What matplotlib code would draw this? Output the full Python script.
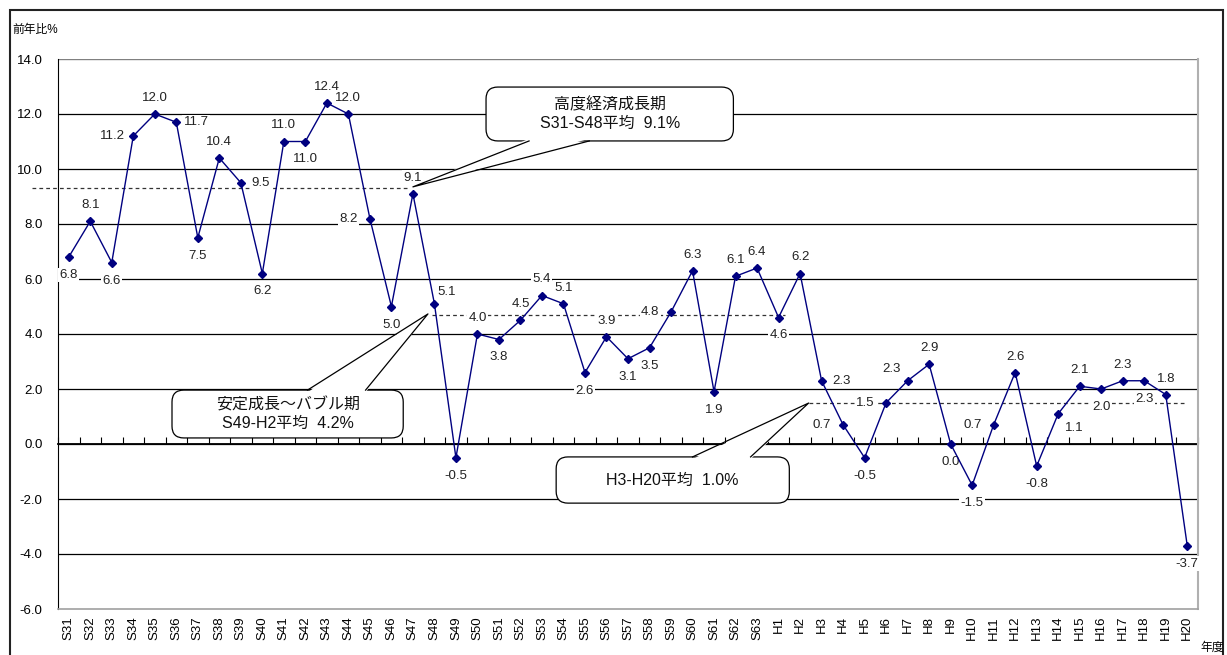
import matplotlib
matplotlib.use('Agg')
import matplotlib.pyplot as plt
from matplotlib.patches import FancyBboxPatch, Polygon, Rectangle
import numpy as np

plt.rcParams['font.family'] = ['Liberation Sans', 'Noto Sans CJK JP', 'DejaVu Sans']

# 年度ラベル
years = ['S31', 'S32', 'S33', 'S34', 'S35', 'S36', 'S37', 'S38', 'S39', 'S40',
         'S41', 'S42', 'S43', 'S44', 'S45', 'S46', 'S47', 'S48', 'S49', 'S50',
         'S51', 'S52', 'S53', 'S54', 'S55', 'S56', 'S57', 'S58', 'S59', 'S60',
         'S61', 'S62', 'S63', 'H1', 'H2', 'H3', 'H4', 'H5', 'H6', 'H7',
         'H8', 'H9', 'H10', 'H11', 'H12', 'H13', 'H14', 'H15', 'H16', 'H17',
         'H18', 'H19', 'H20']

# 前年比(%)
growth = [6.8, 8.1, 6.6, 11.2, 12.0, 11.7, 7.5, 10.4, 9.5, 6.2,
          11.0, 11.0, 12.4, 12.0, 8.2, 5.0, 9.1, 5.1, -0.5, 4.0,
          3.8, 4.5, 5.4, 5.1, 2.6, 3.9, 3.1, 3.5, 4.8, 6.3,
          1.9, 6.1, 6.4, 4.6, 6.2, 2.3, 0.7, -0.5, 1.5, 2.3,
          2.9, 0.0, -1.5, 0.7, 2.6, -0.8, 1.1, 2.1, 2.0, 2.3,
          2.3, 1.8, -3.7]

# ラベルの置き場所 (a=上, b=下, l=左, r=右)
label_pos = ['b', 'a', 'b', 'l', 'a', 'r', 'b', 'a', 'r', 'b',
             'a', 'b', 'a', 'a', 'l', 'b', 'a', 'ar', 'b', 'a',
             'b', 'a', 'a', 'a', 'b', 'a', 'b', 'b', 'l', 'a',
             'b', 'a', 'a', 'b', 'a', 'r', 'l', 'b', 'l', 'al',
             'a', 'b', 'b', 'l', 'a', 'b', 'br', 'a', 'b', 'a',
             'b', 'a', 'b']

# 期間平均の点線 (開始, 終了, 高さ)
period_start = [-1.7, 16.9, 34.4]
period_end = [15.8, 33.3, 52.0]
period_level = [9.3, 4.7, 1.5]

# 吹き出しの文字
callout_texts = ['高度経済成長期\nS31-S48平均  9.1%',
                 '安定成長～バブル期\nS49-H2平均  4.2%',
                 'H3-H20平均  1.0%']

offsets = {'a': (0, 16), 'b': (0, -18), 'l': (-21, 0), 'r': (20, 0),
           'al': (-16, 12), 'ar': (12, 12), 'br': (16, -14)}

fig = plt.figure(figsize=(12.27, 6.55), dpi=100)
ax = fig.add_axes([58 / 1227, 46 / 655, 1140 / 1227, 550 / 655])

x = np.arange(len(years))

# 横のグリッド
for yv in np.arange(-4, 13, 2):
    ax.axhline(yv, color='black', lw=0.9, zorder=1)
ax.axhline(14, color='#808080', lw=1.0, zorder=1)

# 平均の点線
for s, e, lv in zip(period_start, period_end, period_level):
    ax.plot([s, e], [lv, lv], color='#333333', lw=0.9, ls=(0, (3, 2.5)),
            zorder=2, clip_on=False)

ax.plot(x, growth, color='#000080', lw=1.0, marker='D', markersize=4.5, zorder=4)

for xi, yi, pos in zip(x, growth, label_pos):
    ax.annotate(f'{yi:.1f}', (xi, yi), xytext=offsets[pos], textcoords='offset pixels',
                ha='center', va='center', fontsize=9.5, color='#222222', zorder=3,
                bbox=dict(boxstyle='square,pad=0.1', fc='white', ec='none'))

ax.set_xlim(-0.5, len(years) - 0.5)
ax.set_ylim(-6, 14)
ax.set_yticks(np.arange(-6, 15, 2))
ax.set_yticklabels([f'{v:.1f}' for v in np.arange(-6, 15, 2)], fontsize=9.5)
ax.set_xticks(x)
ax.set_xticklabels(years, rotation=90, fontsize=9.5)
ax.tick_params(axis='x', length=0, pad=5)
ax.tick_params(axis='y', length=0, pad=11)
ax.spines['top'].set_visible(False)
ax.spines['right'].set_color('#b0b0b0')
ax.spines['right'].set_linewidth(1.5)
ax.spines['bottom'].set_color('#a0a0a0')
ax.spines['bottom'].set_linewidth(1.2)
ax.spines['left'].set_color('black')

# 0の位置の軸と目盛り
sec = ax.secondary_xaxis(0.3)
sec.set_xticks(np.arange(-0.5, len(years), 1))
sec.tick_params(axis='x', direction='in', length=5, width=0.8, labelbottom=False)
sec.spines['bottom'].set_linewidth(1.3)


def callout(x0, x1, y0, y1, base_a, base_b, base_y, tip, text, inward):
    box = FancyBboxPatch((x0, y0), x1 - x0, y1 - y0,
                         boxstyle='round,pad=0,rounding_size=0.55',
                         mutation_aspect=21.5 / 27.5,
                         fc='white', ec='black', lw=0.9, zorder=5)
    ax.add_patch(box)
    ax.add_patch(Polygon([(base_a, base_y + inward), tip, (base_b, base_y + inward)],
                         closed=True, fc='white', ec='none', zorder=6))
    ax.plot([base_a, tip[0], base_b], [base_y, tip[1], base_y],
            color='black', lw=0.9, zorder=7)
    ax.text((x0 + x1) / 2, (y0 + y1) / 2, text, ha='center', va='center',
            fontsize=11.5, linespacing=1.35, zorder=8, color='#111111')


callout(19.4, 30.9, 11.02, 12.98, 21.4, 24.2, 11.02, (16.0, 9.35), callout_texts[0], 0.08)
callout(4.8, 15.55, 0.22, 1.96, 11.1, 13.8, 1.96, (16.7, 4.73), callout_texts[1], -0.08)
callout(22.66, 33.5, -2.15, -0.47, 29.0, 31.7, -0.47, (34.4, 1.49), callout_texts[2], -0.08)

# 外枠と軸の文字
fig.add_artist(Rectangle((10 / 1227, -0.01), 1213 / 1227, 645 / 655 + 0.01,
                         transform=fig.transFigure, fill=False, ec='#222222', lw=1.5))
fig.text(12 / 1227, 1 - 30 / 655, '前年比%', fontsize=8.5, ha='left', va='center')
fig.text(1200 / 1227, 1 - 648 / 655, '年度', fontsize=8.5, ha='left', va='center')

fig.savefig('out.png', dpi=100)
